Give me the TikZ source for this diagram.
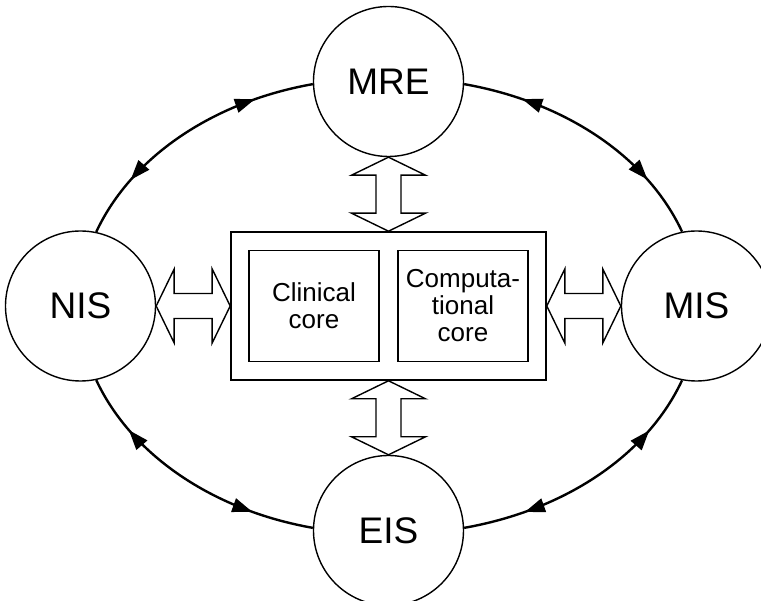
\documentclass[tikz,border=0pt]{standalone}
\usepackage{fontspec}
\setmainfont{Liberation Sans}
\usetikzlibrary{positioning,calc,arrows.meta,decorations.markings}

\begin{document}
\begin{tikzpicture}[x=1pt, y=1pt, node distance=74pt]
    % Style definitions for the systems, the core boxes and the links
    \tikzset{hub/.style={circle, draw=black, line width=1.4pt, minimum size=150pt, inner sep=0pt,
             font=\fontsize{37}{40}\selectfont},
             outerbox/.style={rectangle, draw=black, line width=1.6pt, minimum width=315pt, minimum height=148pt},
             corebox/.style={rectangle, draw=black, line width=1.6pt, minimum width=130pt, minimum height=111pt,
             align=center, inner sep=0pt, font=\fontsize{26}{27}\selectfont},
             link/.style={line width=2.4pt, postaction={decorate}, decoration={markings,
               mark=at position 0.22 with {\arrowreversed{Triangle[length=20pt,width=14pt]}},
               mark=at position 0.77 with {\arrow{Triangle[length=20pt,width=14pt]}}}},
             dblarrow/.pic={\draw[line width=1.4pt, fill=white] (-37,0) -- (-19,37) -- (-19,12.5) -- (19,12.5)
               -- (19,37) -- (37,0) -- (19,-37) -- (19,-12.5) -- (-19,-12.5) -- (-19,-37) -- cycle;}}
    \useasboundingbox (-388.5,-295) rectangle (372.5,306);

    % Central box with the two cores
    \node (core) [outerbox] at (0,0) {};
    \node (clin) [corebox, right=18pt of core.west] {Clinical\\core};
    \node (comp) [corebox, left=18pt of core.east] {Computa-\\tional\\core};

    % Surrounding systems
    \node (mre) [hub, above=of core] {MRE};
    \node (nis) [hub, left=of core] {NIS};
    \node (mis) [hub, right=of core] {MIS};
    \node (eis) [hub, below=of core] {EIS};

    % Hollow double arrows to the core
    \pic at ($(nis.east)!0.5!(core.west)$) {dblarrow};
    \pic at ($(core.east)!0.5!(mis.west)$) {dblarrow};
    \pic[rotate=90] at ($(core.north)!0.5!(mre.south)$) {dblarrow};
    \pic[rotate=90] at ($(eis.north)!0.5!(core.south)$) {dblarrow};

    % Links round the ring
    \draw [link] (mre.182) to[out=190, in=65, out looseness=1, in looseness=0.8] (nis.78);
    \draw [link] (mre.-2) to[out=-10, in=115, out looseness=1, in looseness=0.8] (mis.101);
    \draw [link] (nis.-78) to[out=-65, in=170, out looseness=0.8, in looseness=1] (eis.178);
    \draw [link] (mis.-101) to[out=-115, in=10, out looseness=0.8, in looseness=1] (eis.2);
\end{tikzpicture}
\end{document}
